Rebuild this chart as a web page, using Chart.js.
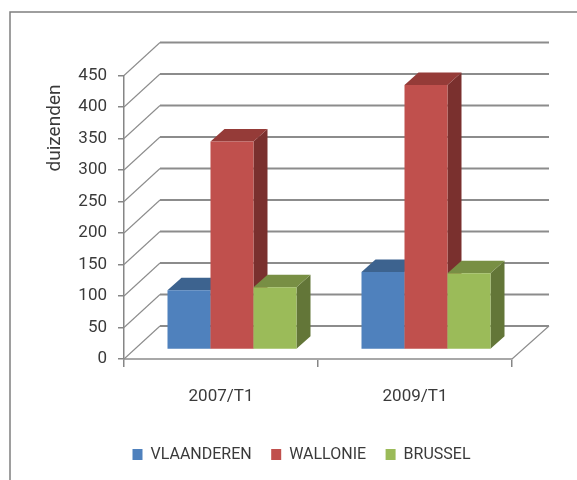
<!DOCTYPE html>
<html>
<head>
<meta charset="utf-8">
<style>
    html, body { margin: 0; padding: 0; background: #fff; }
    #wrap { position: relative; width: 577px; height: 480px; }
    canvas { filter: blur(0.4px); }
</style>
<script src="https://cdn.jsdelivr.net/npm/chart.js@4/dist/chart.umd.min.js"></script>
</head>
<body>
<div id="wrap"><canvas id="chart"></canvas></div>
<script>
const categories = ['2007/T1', '2009/T1'];
const vlaanderen = [94, 123];
const wallonie = [330, 420];
const brussel = [99, 121];
const axisTitle = 'duizenden';

const FONT = 'Roboto, "Liberation Sans", sans-serif';
const TEXT = '#3a3a3a';
const LINE = '#868686';

// diepte van de achterwand en van de balken
const WALL = { dx: 36, dy: -33 };
const BAR_SHIFT = { dx: 11, dy: -9.5 };
const BAR_DEPTH = { dx: 14, dy: -12.5 };

const polygon = (ctx, pts, color) => {
    ctx.fillStyle = color;
    ctx.beginPath();
    pts.forEach(([x, y], i) => (i ? ctx.lineTo(x, y) : ctx.moveTo(x, y)));
    ctx.closePath();
    ctx.fill();
};

const fake3d = {
    id: 'fake3d',
    afterLayout(chart) {
        // legende staat iets rechts van het midden
        chart.legend.left += 15.5;
        chart.legend.right += 15.5;
    },
    beforeDraw(chart) {
        const { ctx } = chart;
        // kader rond de grafiek, rechts en onder afgesneden
        ctx.save();
        ctx.strokeStyle = '#7f7f7f';
        ctx.lineWidth = 1.5;
        ctx.beginPath();
        ctx.moveTo(10, 480);
        ctx.lineTo(10, 12);
        ctx.lineTo(577, 12);
        ctx.stroke();
        ctx.restore();
    },
    beforeDatasetsDraw(chart) {
        const { ctx, chartArea: a, scales: { y } } = chart;
        ctx.save();
        y.ticks.forEach((tick) => {
            const py = y.getPixelForValue(tick.value);
            ctx.strokeStyle = '#8c8c8c';
            ctx.lineWidth = 1.1;
            ctx.beginPath();
            ctx.moveTo(a.left, py);
            ctx.lineTo(a.left + WALL.dx, py + WALL.dy);
            ctx.stroke();
            ctx.lineWidth = 1.8;
            ctx.beginPath();
            ctx.moveTo(a.left + WALL.dx, py + WALL.dy);
            ctx.lineTo(a.right + WALL.dx + 1, py + WALL.dy);
            ctx.stroke();
        });
        const base = y.getPixelForValue(0);
        ctx.strokeStyle = '#8c8c8c';
        ctx.lineWidth = 1.1;
        ctx.beginPath();
        ctx.moveTo(a.right, base);
        ctx.lineTo(a.right + WALL.dx + 1, base + WALL.dy);
        ctx.stroke();
        ctx.restore();
    },
    // Chart.js tekent de datasets van achter naar voor; hier moet het omgekeerd
    beforeDatasetDraw() {
        return false;
    },
    afterDatasetsDraw(chart) {
        const { ctx } = chart;
        chart.getSortedVisibleDatasetMetas().forEach((meta) => {
            const ds = chart.data.datasets[meta.index];
            ctx.save();
            ctx.translate(BAR_SHIFT.dx, BAR_SHIFT.dy);
            meta.data.forEach((bar) => {
                const l = bar.x - bar.width / 2;
                const r = bar.x + bar.width / 2;
                const { dx, dy } = BAR_DEPTH;
                polygon(ctx, [[r, bar.y], [r + dx, bar.y + dy], [r + dx, bar.base + dy], [r, bar.base]], ds.sideColor);
                polygon(ctx, [[l, bar.y], [l + dx, bar.y + dy], [r + dx, bar.y + dy], [r, bar.y]], ds.topColor);
            });
            meta.controller.draw();
            ctx.restore();
        });
    },
    afterDraw(chart) {
        const { ctx } = chart;
        ctx.save();
        ctx.translate(55, 128);
        ctx.rotate(-Math.PI / 2);
        ctx.fillStyle = TEXT;
        ctx.font = `19px ${FONT}`;
        ctx.textAlign = 'center';
        ctx.textBaseline = 'middle';
        ctx.fillText(axisTitle, 0, 0);
        ctx.restore();
    },
};

new Chart(document.getElementById('chart'), {
    type: 'bar',
    plugins: [fake3d],
    data: {
        labels: categories,
        datasets: [
            { label: 'VLAANDEREN', data: vlaanderen, backgroundColor: '#4f81bd', topColor: '#3d638f', sideColor: '#375b85' },
            { label: 'WALLONIE', data: wallonie, backgroundColor: '#c0504d', topColor: '#953b38', sideColor: '#7a302e' },
            { label: 'BRUSSEL', data: brussel, backgroundColor: '#9bbb59', topColor: '#788f44', sideColor: '#637638' },
        ],
    },
    options: {
        responsive: true,
        maintainAspectRatio: false,
        animation: false,
        layout: {
            autoPadding: false,
            padding: { left: 60, right: 65, top: 75.5, bottom: 7.5 },
        },
        datasets: { bar: { categoryPercentage: 0.665, barPercentage: 1 } },
        plugins: {
            tooltip: { enabled: false },
            legend: {
                position: 'bottom',
                labels: {
                    boxWidth: 10,
                    boxHeight: 11,
                    padding: 19.5,
                    color: TEXT,
                    font: { family: FONT, size: 16 },
                },
            },
        },
        scales: {
            x: {
                afterFit: (scale) => { scale.height = 68; },
                grid: { drawOnChartArea: false, offset: true, tickLength: 8, color: LINE, lineWidth: 1.5 },
                border: { color: '#a8a8a8', width: 2 },
                ticks: { color: TEXT, padding: 20, maxRotation: 0, font: { family: FONT, size: 17 } },
            },
            y: {
                min: 0,
                max: 450,
                afterFit: (scale) => { scale.width = 64; },
                grid: { drawOnChartArea: false, tickLength: 6, color: LINE, lineWidth: 1.5 },
                border: { color: LINE, width: 1.5 },
                ticks: { stepSize: 50, color: TEXT, padding: 11, font: { family: FONT, size: 17 } },
            },
        },
    },
});
</script>
</body>
</html>
